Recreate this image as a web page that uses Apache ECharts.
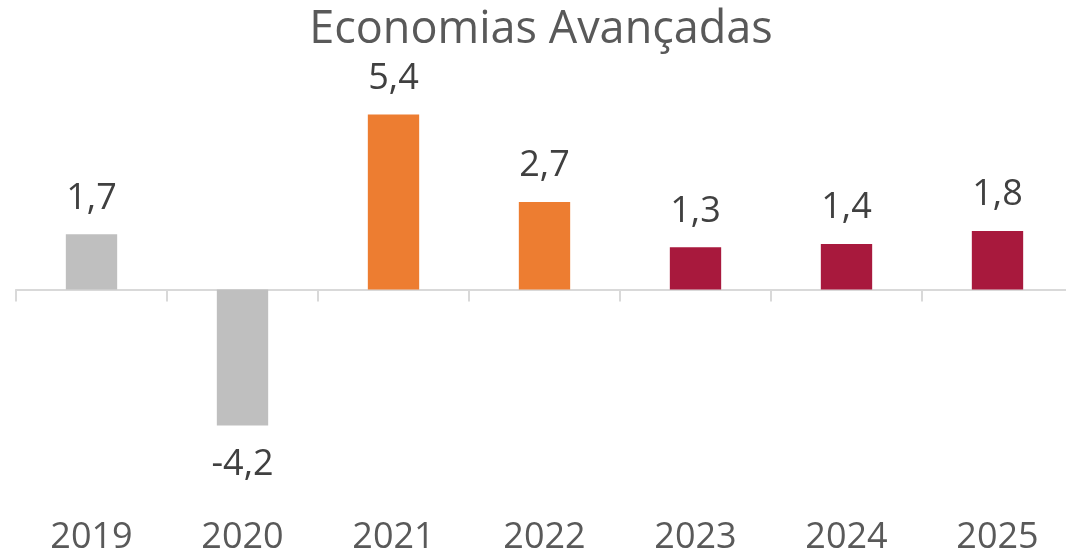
<!DOCTYPE html>
<html>
<head>
<meta charset="utf-8">
<script src="https://cdn.jsdelivr.net/npm/echarts@6/dist/echarts.min.js"></script>
<style>
html,body{margin:0;padding:0;background:#fff;overflow:hidden;}
#c{width:1066px;height:555px;}
</style>
</head>
<body>
<div id="c"></div>
<script>
const title = 'Economias Avançadas';
const years = ['2019', '2020', '2021', '2022', '2023', '2024', '2025'];
const growth = [1.7, -4.2, 5.4, 2.7, 1.3, 1.4, 1.8];
const periods = ['hist', 'hist', 'est', 'est', 'proj', 'proj', 'proj'];

const periodColor = { hist: '#BFBFBF', est: '#ED7D31', proj: '#A8193D' };
const FONT = '"Open Sans", "Noto Sans", sans-serif';

const chart = echarts.init(document.getElementById('c'), null, { renderer: 'canvas' });
chart.setOption({
  animation: false,
  backgroundColor: '#ffffff',
  title: {
    text: title,
    left: 536,
    textAlign: 'center',
    top: 3,
    textStyle: { fontFamily: FONT, fontSize: 45, fontWeight: 'normal', color: '#595959' }
  },
  grid: { left: 16, width: 1057, top: 95, height: 388.8, containLabel: false, outerBoundsMode: 'none' },
  xAxis: [
    {
      type: 'category',
      data: years,
      boundaryGap: true,
      axisLine: { onZero: true, lineStyle: { color: '#D9D9D9', width: 2 } },
      axisTick: { show: true, length: 12, lineStyle: { color: '#D9D9D9', width: 2 } },
      axisLabel: { show: false },
      splitLine: { show: false }
    },
    {
      type: 'category',
      data: years,
      position: 'bottom',
      boundaryGap: true,
      axisLine: { show: false, onZero: false },
      axisTick: { show: false },
      axisLabel: { show: true, margin: 36, fontFamily: FONT, fontSize: 36, color: '#595959' },
      splitLine: { show: false }
    }
  ],
  yAxis: {
    type: 'value',
    min: -6,
    max: 6,
    show: false,
    splitLine: { show: false }
  },
  series: [{
    type: 'bar',
    xAxisIndex: 0,
    barWidth: '34%',
    data: growth.map((v, i) => ({
      value: v,
      itemStyle: { color: periodColor[periods[i]] },
      label: v < 0 ? { position: 'bottom', distance: 21 } : { position: 'top', distance: 18 }
    })),
    label: {
      show: true,
      fontFamily: FONT,
      fontSize: 36,
      color: '#404040',
      formatter: p => String(p.value).replace('.', ',')
    }
  }]
});
</script>
</body>
</html>
